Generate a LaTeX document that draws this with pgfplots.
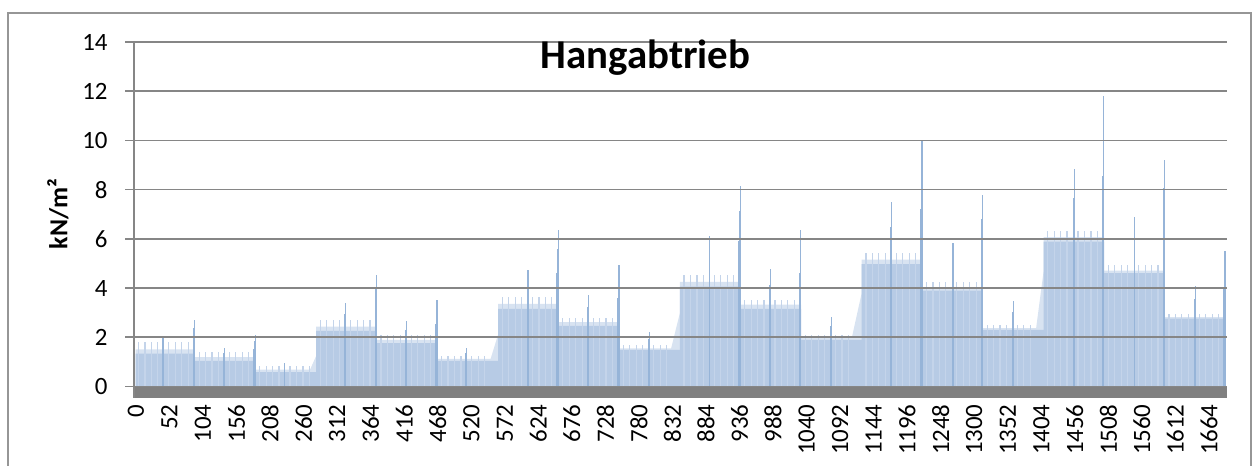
\documentclass[border=0pt]{standalone}
\usepackage{fontspec}
\setmainfont{Carlito}
\usepackage{pgfplots}
\pgfplotsset{compat=1.18}
\definecolor{barbody}{RGB}{183,203,229}
\definecolor{barlight}{RGB}{216,227,241}
\definecolor{barspike}{RGB}{150,180,216}
\definecolor{smallspike}{RGB}{196,212,234}
\definecolor{gridgray}{RGB}{134,134,134}
\definecolor{floorgray}{RGB}{128,128,128}
\definecolor{framegray}{RGB}{150,150,150}

\begin{document}
\begin{tikzpicture}
\useasboundingbox (0,0) rectangle (629bp,233bp);
\draw[framegray, line width=0.6bp] (4bp,-5bp) rectangle (625.5bp,226.5bp);
\begin{axis}[
  at={(67bp,34.25bp)}, anchor=south west,
  scale only axis, width=546.5bp, height=177.75bp,
  xmin=-3, xmax=1692, ymin=-0.45, ymax=14,
  axis on top,
  axis lines*=left,
  ytick={0,2,...,14},
  xtick={0,52,...,1664},
  ymajorgrids,
  grid style={gridgray, line width=0.75bp},
  ytick align=outside, xtick align=inside,
  major tick length=4.5bp,
  ytick style={gridgray, line width=0.75bp},
  xtick style={draw=none},
  tick label style={font=\fontsize{12.5}{14}\selectfont},
  /pgf/number format/assume math mode=true,
  /pgf/number format/1000 sep={},
  yticklabel style={anchor=east, inner sep=0pt, xshift=-8.5bp},
  xticklabel style={yshift=-3.25bp, rotate=90, anchor=east, inner sep=0pt},
  y axis line style={gridgray, line width=0.75bp},
  x axis line style={draw=none},
]
% light top band of the bar blocks
\addplot[fill=barlight, draw=none] coordinates {
  (-0.5,0) (-0.5,1.51) (91.5,1.51) (91.5,1.19) (185.5,1.19) (185.5,0.68)
  (270,0.68) (279.5,1.24) (279.5,2.43) (373.5,2.43) (373.5,1.89) (467.5,1.89)
  (467.5,1.12) (550,1.12) (561.5,2.10) (561.5,3.36) (655.5,3.36) (655.5,2.61)
  (749.5,2.61) (749.5,1.55) (830,1.55) (843.5,2.98) (843.5,4.25) (937.5,4.25)
  (937.5,3.32) (1031.5,3.32) (1031.5,1.96) (1110,1.96) (1125.5,3.80) (1125.5,5.15)
  (1219.5,5.15) (1219.5,3.98) (1313.5,3.98) (1313.5,2.37) (1396,2.37) (1407.5,4.67)
  (1407.5,6.07) (1501.5,6.07) (1501.5,4.71) (1595.5,4.71) (1595.5,2.82)
  (1689.5,2.82) (1689.5,0)} -- cycle;
% main body of the bar blocks
\addplot[fill=barbody, draw=none] coordinates {
  (-0.5,0) (-0.5,1.33) (91.5,1.33) (91.5,1.04) (185.5,1.04) (185.5,0.58)
  (279.5,0.58) (279.5,2.26) (373.5,2.26) (373.5,1.76) (467.5,1.76) (467.5,1.04)
  (561.5,1.04) (561.5,3.15) (655.5,3.15) (655.5,2.46) (749.5,2.46) (749.5,1.49)
  (843.5,1.49) (843.5,4.06) (937.5,4.06) (937.5,3.15) (1031.5,3.15) (1031.5,1.89)
  (1125.5,1.89) (1125.5,4.97) (1219.5,4.97) (1219.5,3.89) (1313.5,3.89)
  (1313.5,2.30) (1407.5,2.30) (1407.5,5.89) (1501.5,5.89) (1501.5,4.61)
  (1595.5,4.61) (1595.5,2.76) (1689.5,2.76) (1689.5,0)} -- cycle;
% small regular peaks
\addplot[ycomb, smallspike, line width=0.6bp, mark=none] coordinates {
  (4,1.80) (14,1.80) (24,1.80) (34,1.80) (51,1.80) (61,1.80) (71,1.80) (81,1.80)
  (98,1.39) (108,1.39) (118,1.39) (128,1.39) (145,1.39) (155,1.39) (165,1.39) (175,1.39)
  (192,0.82) (202,0.82) (212,0.82) (222,0.82) (239,0.82) (249,0.82) (259,0.82) (269,0.82)
  (286,2.71) (296,2.71) (306,2.71) (316,2.71) (333,2.71) (343,2.71) (353,2.71) (363,2.71)
  (380,2.10) (390,2.10) (400,2.10) (410,2.10) (427,2.10) (437,2.10) (447,2.10) (457,2.10)
  (474,1.24) (484,1.24) (494,1.24) (504,1.24) (521,1.24) (531,1.24) (541,1.24)
  (568,3.62) (578,3.62) (588,3.62) (598,3.62) (615,3.62) (625,3.62) (635,3.62) (645,3.62)
  (662,2.80) (672,2.80) (682,2.80) (692,2.80) (709,2.80) (719,2.80) (729,2.80) (739,2.80)
  (756,1.69) (766,1.69) (776,1.69) (786,1.69) (803,1.69) (813,1.69) (823,1.69)
  (850,4.52) (860,4.52) (870,4.52) (880,4.52) (897,4.52) (907,4.52) (917,4.52) (927,4.52)
  (944,3.52) (954,3.52) (964,3.52) (974,3.52) (991,3.52) (1001,3.52) (1011,3.52) (1021,3.52)
  (1038,2.10) (1048,2.10) (1058,2.10) (1068,2.10) (1085,2.10) (1095,2.10) (1105,2.10)
  (1132,5.42) (1142,5.42) (1152,5.42) (1162,5.42) (1179,5.42) (1189,5.42) (1199,5.42) (1209,5.42)
  (1226,4.23) (1236,4.23) (1246,4.23) (1256,4.23) (1273,4.23) (1283,4.23) (1293,4.23) (1303,4.23)
  (1320,2.50) (1330,2.50) (1340,2.50) (1350,2.50) (1367,2.50) (1377,2.50) (1387,2.50)
  (1414,6.33) (1424,6.33) (1434,6.33) (1444,6.33) (1461,6.33) (1471,6.33) (1481,6.33) (1491,6.33)
  (1508,4.93) (1518,4.93) (1528,4.93) (1538,4.93) (1555,4.93) (1565,4.93) (1575,4.93) (1585,4.93)
  (1602,2.94) (1612,2.94) (1622,2.94) (1632,2.94) (1649,2.94) (1659,2.94) (1669,2.94) (1679,2.94)
};
% middle and end peaks of each block
\addplot[ycomb, barspike, line width=0.6bp, mark=none] coordinates {
  (41,1.75) (42,2.03) (89,1.95) (90,2.37) (91,2.71)
  (136,1.35) (137,1.55) (183,1.52) (184,1.84) (185,2.10)
  (230,0.80) (231,0.94)
  (324,2.94) (325,3.39) (371,3.27) (372,3.95) (373,4.51)
  (418,2.29) (419,2.64) (465,2.55) (466,3.08) (467,3.52)
  (512,1.35) (513,1.55)
  (607,4.10) (608,4.74) (653,4.60) (654,5.57) (655,6.37)
  (701,3.22) (702,3.72) (747,3.58) (748,4.32) (749,4.94)
  (795,1.93) (796,2.23)
  (889,5.30) (890,6.12) (935,5.91) (936,7.14) (937,8.16)
  (983,4.13) (984,4.78) (1029,4.60) (1030,5.57) (1031,6.37)
  (1078,2.46) (1079,2.84)
  (1171,6.49) (1172,7.48) (1217,7.23) (1218,8.74) (1219,9.99)
  (1266,5.05) (1267,5.83) (1311,5.65) (1312,6.82) (1313,7.79)
  (1360,3.01) (1361,3.49)
  (1454,7.66) (1455,8.84) (1499,8.55) (1500,10.32) (1501,11.80)
  (1548,5.98) (1549,6.89) (1593,6.67) (1594,8.05) (1595,9.19)
  (1642,3.56) (1643,4.10) (1687,3.99) (1688,4.81) (1689,5.49)
};
% floor of the chart
\addplot[fill=floorgray, draw=none] coordinates {
  (-3,-0.45) (1692,-0.45) (1692,0) (-3,0)} -- cycle;
\end{axis}
\node[font=\fontsize{20.5}{24}\selectfont\bfseries, anchor=base] at (322.75bp,198.85bp) {Hangabtrieb};
\node[font=\fontsize{13}{15}\selectfont\bfseries, rotate=90] at (29bp,126bp) {kN/m²};
\end{tikzpicture}
\end{document}
